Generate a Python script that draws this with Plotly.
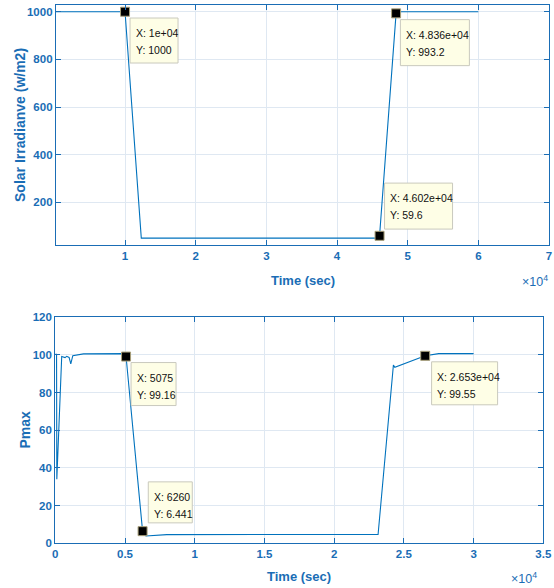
import plotly.graph_objects as go

# ---------------- data ----------------
irr_t = [0, 10000, 12300, 45900, 46020, 48360, 48700, 60000]
irr_y = [1000, 1000, 50, 50, 59.6, 993.2, 1000, 1000]

pmax_t = [0, 90, 110, 460, 700, 820, 990, 1110, 1255, 2020, 5000, 5075, 6260,
          6500, 8000, 23150, 24250, 24350, 26530, 27500, 30000]
pmax_y = [100.3, 100.3, 34, 99.2, 98.6, 99.3, 98.7, 95.3, 99.6, 100.6, 100.7, 99.16, 6.441,
          3.9, 4.6, 4.7, 94.7, 93.5, 99.55, 100.7, 100.7]

# data tips (x, y, label x, label y)
tip1_x = [10000, 48360, 46020]
tip1_y = [1000, 993.2, 59.6]
tip1_xl = ["1e+04", "4.836e+04", "4.602e+04"]
tip1_yl = ["1000", "993.2", "59.6"]

tip2_x = [5075, 6260, 26530]
tip2_y = [99.16, 6.441, 99.55]
tip2_xl = ["5075", "6260", "2.653e+04"]
tip2_yl = ["99.16", "6.441", "99.55"]

top_xticks = [10000, 20000, 30000, 40000, 50000, 60000, 70000]
top_xtext = ["1", "2", "3", "4", "5", "6", "7"]
top_yticks = [200, 400, 600, 800, 1000]
bot_xticks = [0, 5000, 10000, 15000, 20000, 25000, 30000, 35000]
bot_xtext = ["0", "0.5", "1", "1.5", "2", "2.5", "3", "3.5"]
bot_yticks = [0, 20, 40, 60, 80, 100, 120]

# ---------------- styling ----------------
W, H = 554, 588
BLUE = "#0072BD"
AX = "#1a6db5"
GRID = "#dfe8f2"
FONT = "Liberation Sans Narrow, Arial Narrow, Liberation Sans, Arial, sans-serif"
TIPFONT = "Liberation Sans, Arial, sans-serif"


def px_x(p):
    return p / W


def px_y(p):
    return 1 - p / H


fig = go.Figure()
fig.add_trace(go.Scatter(x=irr_t, y=irr_y, mode="lines", line=dict(color=BLUE, width=1.1),
                         xaxis="x", yaxis="y", showlegend=False, hoverinfo="skip"))
fig.add_trace(go.Scatter(x=pmax_t, y=pmax_y, mode="lines", line=dict(color=BLUE, width=1.1),
                         xaxis="x2", yaxis="y2", showlegend=False, hoverinfo="skip"))
fig.add_trace(go.Scatter(x=tip1_x, y=tip1_y, mode="markers",
                         marker=dict(symbol="square", size=9, color="black",
                                     line=dict(color="#a89f7a", width=1)),
                         xaxis="x", yaxis="y", showlegend=False, hoverinfo="skip", cliponaxis=False))
fig.add_trace(go.Scatter(x=tip2_x, y=tip2_y, mode="markers",
                         marker=dict(symbol="square", size=9, color="black",
                                     line=dict(color="#a89f7a", width=1)),
                         xaxis="x2", yaxis="y2", showlegend=False, hoverinfo="skip", cliponaxis=False))

axis_common = dict(
    showline=True, linecolor=AX, linewidth=1.3, mirror="ticks",
    ticks="inside", ticklen=5, tickcolor=AX, tickwidth=1,
    showgrid=True, gridcolor=GRID, gridwidth=1, zeroline=False,
    tickfont=dict(family=FONT, size=11.5, color=AX, weight="bold"),
)

fig.update_layout(
    width=W, height=H,
    margin=dict(l=0, r=0, t=0, b=0),
    paper_bgcolor="white", plot_bgcolor="white",
    xaxis=dict(axis_common, domain=[px_x(56), px_x(549)], range=[230, 70000],
               tickvals=top_xticks, ticktext=top_xtext, anchor="y", automargin=False),
    yaxis=dict(axis_common, domain=[px_y(245), px_y(5.3)], range=[21, 1027],
               tickvals=top_yticks, anchor="x", automargin=False),
    xaxis2=dict(axis_common, domain=[px_x(55.3), px_x(543.3)], range=[0, 35000],
                tickvals=bot_xticks, ticktext=bot_xtext, anchor="y2", automargin=False),
    yaxis2=dict(axis_common, domain=[px_y(543.3), px_y(317.3)], range=[0, 120],
                tickvals=bot_yticks, anchor="x2", automargin=False),
)

ann = []
shapes = []
ytitle_font = dict(family=TIPFONT, size=14, color=AX, weight="bold")
xtitle_font = dict(family=FONT, size=13, color=AX, weight="bold")
ann.append(dict(text="Solar Irradianve (w/m2)", xref="paper", yref="paper",
                x=px_x(20), y=px_y(125), textangle=-90, showarrow=False,
                font=ytitle_font, xanchor="center", yanchor="middle"))
ann.append(dict(text="Pmax", xref="paper", yref="paper",
                x=px_x(24.5), y=px_y(430), textangle=-90, showarrow=False,
                font=ytitle_font, xanchor="center", yanchor="middle"))
ann.append(dict(text="Time (sec)", xref="paper", yref="paper",
                x=px_x(303), y=px_y(281), showarrow=False,
                font=xtitle_font, xanchor="center", yanchor="middle"))
ann.append(dict(text="Time (sec)", xref="paper", yref="paper",
                x=px_x(299), y=px_y(576.5), showarrow=False,
                font=xtitle_font, xanchor="center", yanchor="middle"))
exp_font = dict(family=TIPFONT, size=12.5, color=AX)
ann.append(dict(text="\u00d710<sup>4</sup>", xref="paper", yref="paper",
                x=px_x(550), y=px_y(281), showarrow=False,
                font=exp_font, xanchor="right", yanchor="middle"))
ann.append(dict(text="\u00d710<sup>4</sup>", xref="paper", yref="paper",
                x=px_x(539), y=px_y(578), showarrow=False,
                font=exp_font, xanchor="right", yanchor="middle"))

# data tip boxes: (dx, dy, w, h) offsets in pixels from marker (dy positive = down)
box1 = [(5, 6.3, 48, 45), (4.3, 6.3, 69, 46), (5, -52.7, 68, 46)]
box2 = [(5, 6, 45, 43), (5.7, -49.3, 44, 41), (6.4, 6, 66, 43)]

tip_font = dict(family=TIPFONT, size=10.5, color="#111111")


def add_tips(xs, ys, xl, yl, boxes, xr, yr):
    for x, y, lx, ly, (dx, dy, w, h) in zip(xs, ys, xl, yl, boxes):
        shapes.append(dict(type="rect", xref=xr, yref=yr, xsizemode="pixel", ysizemode="pixel",
                           xanchor=x, yanchor=y, x0=dx, x1=dx + w, y0=-dy, y1=-(dy + h),
                           fillcolor="#fefee6", line=dict(color="#c9c9bd", width=1), layer="above"))
        ann.append(dict(text="X: " + lx, xref=xr, yref=yr, x=x, y=y, showarrow=False,
                        xanchor="left", yanchor="middle", xshift=dx + 3.5, yshift=-(dy + 15),
                        font=tip_font))
        ann.append(dict(text="Y: " + ly, xref=xr, yref=yr, x=x, y=y, showarrow=False,
                        xanchor="left", yanchor="middle", xshift=dx + 3.5, yshift=-(dy + 32),
                        font=tip_font))


add_tips(tip1_x, tip1_y, tip1_xl, tip1_yl, box1, "x", "y")
add_tips(tip2_x, tip2_y, tip2_xl, tip2_yl, box2, "x2", "y2")

fig.update_layout(annotations=ann, shapes=shapes)
fig.write_html("out.html")
